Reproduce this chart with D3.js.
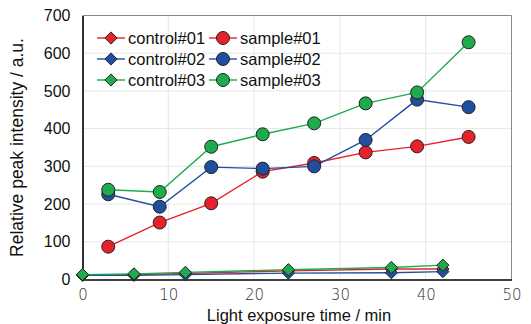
<!DOCTYPE html>
<html>
<head>
<meta charset="utf-8">
<script src="https://cdn.jsdelivr.net/npm/d3@7"></script>
<style>
  body { margin: 0; background: #fff; }
  text { font-family: "Liberation Sans", Arial, sans-serif; }
</style>
</head>
<body>
<div id="chart"></div>
<script>
const controlTimes = [0, 6, 12, 24, 36, 42]
const sampleTimes = [3, 9, 15, 21, 27, 33, 39, 45]

const control01 = [12, 13, 16, 23, 28, 28]
const control02 = [11, 11, 13, 17, 18, 21]
const control03 = [13, 15, 19, 26, 32, 38]

const sample01 = [87, 151, 202, 286, 309, 337, 353, 378]
const sample02 = [226, 193, 298, 294, 300, 370, 477, 457]
const sample03 = [238, 232, 352, 385, 414, 467, 496, 629]

const xTicks = [0, 10, 20, 30, 40, 50]
const yTicks = [0, 100, 200, 300, 400, 500, 600, 700]

const red = "#e8202a", blue = "#1f4f9e", green = "#1dab4c"

const series = [
  { name: "control#01", x: controlTimes, y: control01, color: red, shape: "diamond" },
  { name: "sample#01", x: sampleTimes, y: sample01, color: red, shape: "circle" },
  { name: "control#02", x: controlTimes, y: control02, color: blue, shape: "diamond" },
  { name: "sample#02", x: sampleTimes, y: sample02, color: blue, shape: "circle" },
  { name: "control#03", x: controlTimes, y: control03, color: green, shape: "diamond" },
  { name: "sample#03", x: sampleTimes, y: sample03, color: green, shape: "circle" }
]

const W = 531, H = 324
const m = { left: 82.5, right: 19.5, top: 15.5, bottom: 44.5 }

const svg = d3.select("#chart").append("svg")
  .attr("width", W).attr("height", H)

const x = d3.scaleLinear().domain([0, 50]).range([m.left, W - m.right])
const y = d3.scaleLinear().domain([0, 700]).range([H - m.bottom, m.top])

// grid
svg.append("g").selectAll("line").data(xTicks.slice(1, -1)).enter().append("line")
  .attr("x1", d => x(d)).attr("x2", d => x(d))
  .attr("y1", m.top).attr("y2", H - m.bottom)
  .style("stroke", "#e6e6e6").style("stroke-width", 1)
svg.append("g").selectAll("line").data(yTicks.slice(1, -1)).enter().append("line")
  .attr("x1", m.left).attr("x2", W - m.right)
  .attr("y1", d => y(d)).attr("y2", d => y(d))
  .style("stroke", "#e6e6e6").style("stroke-width", 1)

// frame
svg.append("line").attr("x1", m.left).attr("x2", W - m.right)
  .attr("y1", m.top).attr("y2", m.top).style("stroke", "#8a8a8a").style("stroke-width", 1)
svg.append("line").attr("x1", W - m.right).attr("x2", W - m.right)
  .attr("y1", m.top).attr("y2", H - m.bottom).style("stroke", "#8a8a8a").style("stroke-width", 1)

// axes
const xAxis = svg.append("g").attr("transform", `translate(0,${H - m.bottom})`)
  .call(d3.axisBottom(x).tickValues(xTicks).tickSize(0).tickPadding(10))
const yAxis = svg.append("g").attr("transform", `translate(${m.left},0)`)
  .call(d3.axisLeft(y).tickValues(yTicks).tickSize(0).tickPadding(12))
xAxis.select(".domain").style("stroke", "#000").style("stroke-width", 1.6)
yAxis.select(".domain").style("stroke", "#000").style("stroke-width", 1.6)
xAxis.selectAll("text").style("font-size", "15px").style("fill", "#333")
  .style("font-family", "'DejaVu Sans', sans-serif").style("font-weight", 200)
yAxis.selectAll("text").style("font-size", "16px").style("fill", "#111")

svg.append("text").attr("x", (m.left + W - m.right) / 2 + 2).attr("y", 321)
  .attr("text-anchor", "middle").style("font-size", "16.5px").style("fill", "#111")
  .text("Light exposure time / min")
svg.append("text").attr("transform", `translate(23,${(m.top + H - m.bottom) / 2}) rotate(-90)`)
  .attr("text-anchor", "middle").style("font-size", "17.5px").style("fill", "#111")
  .text("Relative peak intensity / a.u.")

const line = d3.line().x(d => x(d[0])).y(d => y(d[1]))
const diamond = d3.symbol().type(d3.symbolDiamond2).size(95)

function drawMarker(g, shape, color) {
  if (shape === "circle") {
    g.append("circle").attr("r", 6.5)
      .style("fill", color).style("stroke", "#222").style("stroke-width", 1)
  } else {
    g.append("path").attr("d", diamond)
      .style("fill", color).style("stroke", "#222").style("stroke-width", 1)
  }
}

series.forEach(s => {
  const pts = s.x.map((t, i) => [t, s.y[i]])
  const g = svg.append("g")
  g.append("path").datum(pts).attr("d", line)
    .style("fill", "none").style("stroke", s.color).style("stroke-width", 1.4)
  pts.forEach(p => {
    const mk = g.append("g").attr("transform", `translate(${x(p[0])},${y(p[1])})`)
    drawMarker(mk, s.shape, s.color)
  })
})

// legend
const legendCols = [[0, 2, 4], [1, 3, 5]]
const colX = [97, 209]
legendCols.forEach((col, ci) => {
  col.forEach((si, ri) => {
    const s = series[si]
    const ly = 38 + ri * 21
    const g = svg.append("g")
    g.append("line").attr("x1", colX[ci]).attr("x2", colX[ci] + 28)
      .attr("y1", ly).attr("y2", ly)
      .style("stroke", s.color).style("stroke-width", 1.4)
    const mk = g.append("g").attr("transform", `translate(${colX[ci] + 14},${ly})`)
    drawMarker(mk, s.shape, s.color)
    g.append("text").attr("x", colX[ci] + 31).attr("y", ly + 6)
      .style("font-size", "16.5px").style("fill", "#111").text(s.name)
  })
})
</script>
</body>
</html>
